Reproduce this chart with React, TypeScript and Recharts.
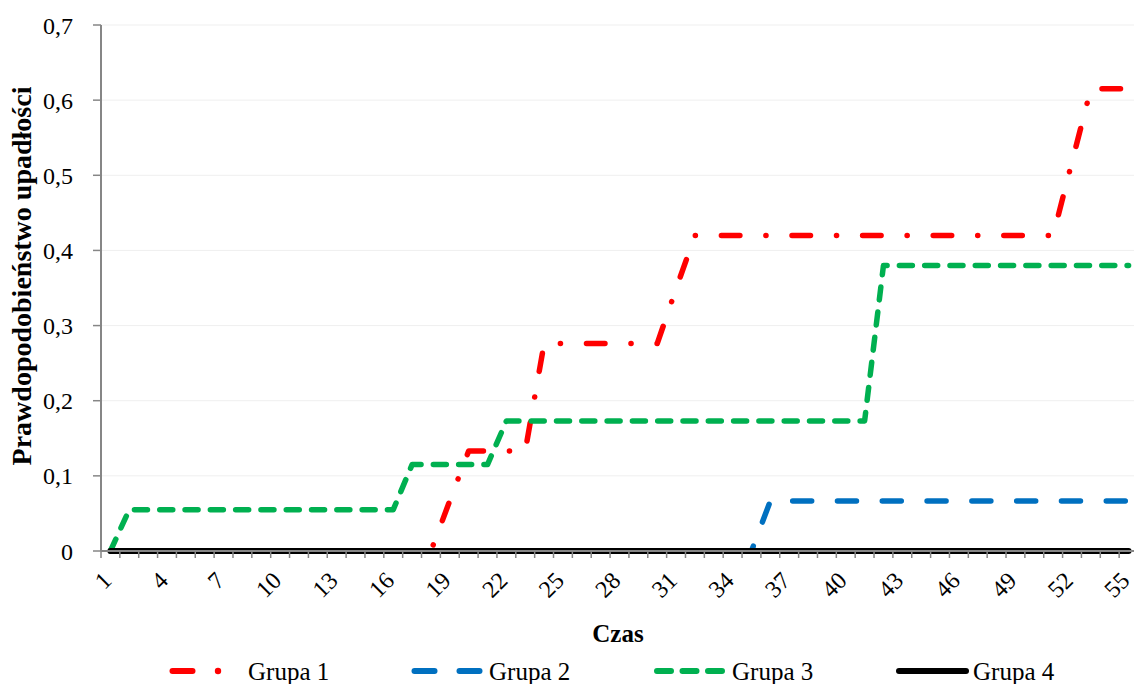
import { LineChart, Line, XAxis, YAxis, CartesianGrid } from "recharts";

const czas = [
  1, 2, 3, 4, 5, 6, 7, 8, 9, 10, 11, 12, 13, 14, 15, 16, 17, 18, 19, 20,
  21, 22, 23, 24, 25, 26, 27, 28, 29, 30, 31, 32, 33, 34, 35, 36, 37, 38, 39, 40,
  41, 42, 43, 44, 45, 46, 47, 48, 49, 50, 51, 52, 53, 54, 55,
];

const grupa1 = [
  0, 0, 0, 0, 0, 0, 0, 0, 0, 0, 0, 0, 0, 0, 0, 0, 0, 0, 0.067, 0.133,
  0.133, 0.133, 0.133, 0.276, 0.276, 0.276, 0.276, 0.276, 0.276, 0.276, 0.349, 0.42, 0.42, 0.42, 0.42, 0.42, 0.42, 0.42, 0.42, 0.42,
  0.42, 0.42, 0.42, 0.42, 0.42, 0.42, 0.42, 0.42, 0.42, 0.42, 0.42, 0.518, 0.615, 0.615, 0.615,
];

const grupa2 = [
  0, 0, 0, 0, 0, 0, 0, 0, 0, 0, 0, 0, 0, 0, 0, 0, 0, 0, 0, 0,
  0, 0, 0, 0, 0, 0, 0, 0, 0, 0, 0, 0, 0, 0, 0, 0.0665, 0.0665, 0.0665, 0.0665, 0.0665,
  0.0665, 0.0665, 0.0665, 0.0665, 0.0665, 0.0665, 0.0665, 0.0665, 0.0665, 0.0665, 0.0665, 0.0665, 0.0665, 0.0665, 0.0665,
];

const grupa3 = [
  0, 0.055, 0.055, 0.055, 0.055, 0.055, 0.055, 0.055, 0.055, 0.055, 0.055, 0.055, 0.055, 0.055, 0.055, 0.055, 0.115, 0.115, 0.115, 0.115,
  0.115, 0.173, 0.173, 0.173, 0.173, 0.173, 0.173, 0.173, 0.173, 0.173, 0.173, 0.173, 0.173, 0.173, 0.173, 0.173, 0.173, 0.173, 0.173, 0.173,
  0.173, 0.38, 0.38, 0.38, 0.38, 0.38, 0.38, 0.38, 0.38, 0.38, 0.38, 0.38, 0.38, 0.38, 0.38,
];

const grupa4 = [
  0, 0, 0, 0, 0, 0, 0, 0, 0, 0, 0, 0, 0, 0, 0, 0, 0, 0, 0, 0,
  0, 0, 0, 0, 0, 0, 0, 0, 0, 0, 0, 0, 0, 0, 0, 0, 0, 0, 0, 0,
  0, 0, 0, 0, 0, 0, 0, 0, 0, 0, 0, 0, 0, 0, 0,
];

const etykietyX = [1, 4, 7, 10, 13, 16, 19, 22, 25, 28, 31, 34, 37, 40, 43, 46, 49, 52, 55];
const ticksY = [0, 0.1, 0.2, 0.3, 0.4, 0.5, 0.6, 0.7];

const dane = czas.map((t, i) => ({
  t,
  g1: grupa1[i],
  g2: grupa2[i],
  g3: grupa3[i],
  g4: grupa4[i],
}));

const FONT = "'Liberation Serif', 'Times New Roman', serif";
const W = 1134;
const H = 684;
const LEWY = 101;
const PRAWY = -4;
const POL = (W - LEWY - PRAWY) / czas.length / 2;
const SZARY = "#868686";

const XTick = (props: any) => {
  const { x, y, payload } = props;
  const v = payload.value;
  const lx = x + 2.5;
  const ly = y + 31;
  return (
    <g>
      <line x1={x - POL} x2={x - POL} y1={y} y2={y + 7} stroke={SZARY} strokeWidth={1.5} />
      {etykietyX.includes(v) && (
        <text
          x={lx}
          y={ly}
          transform={`rotate(-45 ${lx} ${ly})`}
          textAnchor="end"
          fontSize={24}
          style={{ fontFamily: FONT }}
          fill="#000"
        >
          {v}
        </text>
      )}
    </g>
  );
};

export default function App() {
  return (
    <div style={{ position: "absolute", left: 0, top: 0, width: W, height: H, background: "#fff", fontFamily: FONT }}>
      <LineChart
        width={W}
        height={H}
        data={dane}
        margin={{ top: 25, right: PRAWY, bottom: 0, left: 0 }}
        style={{ fontFamily: FONT }}
      >
        <CartesianGrid vertical={false} stroke="#efefef" strokeWidth={1} />
        <XAxis
          dataKey="t"
          type="number"
          domain={[0.5, 55.5]}
          ticks={czas}
          interval={0}
          height={133}
          tickSize={0}
          tickMargin={0}
          tickLine={false}
          axisLine={{ stroke: SZARY, strokeWidth: 2 }}
          tick={<XTick />}
          label={() => (
            <text x={618} y={642} textAnchor="middle" fontSize={25} fontWeight="bold" style={{ fontFamily: FONT }} fill="#000">
              Czas
            </text>
          )}
        />
        <YAxis
          width={LEWY}
          domain={[0, 0.7]}
          ticks={ticksY}
          interval={0}
          tickSize={8}
          tickMargin={20}
          tickLine={{ stroke: SZARY, strokeWidth: 1.5 }}
          axisLine={{ stroke: SZARY, strokeWidth: 2 }}
          tick={{ fontSize: 24, fill: "#000", style: { fontFamily: FONT } }}
          tickFormatter={(v: number) => String(v).replace(".", ",")}
          label={() => (
            <text
              x={31}
              y={276}
              transform="rotate(-90 31 276)"
              textAnchor="middle"
              fontSize={28}
              fontWeight="bold"
              style={{ fontFamily: FONT }}
              fill="#000"
            >
              Prawdopodobieństwo upadłości
            </text>
          )}
        />
        <Line
          dataKey="g1"
          name="Grupa 1"
          type="linear"
          stroke="#FF0000"
          strokeWidth={5.5}
          strokeDasharray="18.5 26 0.1 26"
          strokeLinecap="round"
          strokeLinejoin="round"
          dot={false}
          activeDot={false}
          isAnimationActive={false}
        />
        <Line
          dataKey="g2"
          name="Grupa 2"
          type="linear"
          stroke="#0070C0"
          strokeWidth={5.5}
          strokeDasharray="19 25.8"
          strokeLinecap="round"
          strokeLinejoin="round"
          dot={false}
          activeDot={false}
          isAnimationActive={false}
        />
        <Line
          dataKey="g3"
          name="Grupa 3"
          type="linear"
          stroke="#00B050"
          strokeWidth={5.5}
          strokeDasharray="13 12.3"
          strokeLinecap="round"
          strokeLinejoin="round"
          dot={false}
          activeDot={false}
          isAnimationActive={false}
        />
        <Line
          dataKey="g4"
          name="Grupa 4"
          type="linear"
          stroke="#000000"
          strokeWidth={6}
          strokeLinecap="round"
          strokeLinejoin="round"
          dot={false}
          activeDot={false}
          isAnimationActive={false}
        />
      </LineChart>
      <svg
        width={W}
        height={H}
        style={{ position: "absolute", left: 0, top: 0, pointerEvents: "none", fontFamily: FONT }}
      >
        <g fontSize={25} fill="#000">
          <line x1={172.5} x2={192.5} y1={671} y2={671} stroke="#FF0000" strokeWidth={6} strokeLinecap="round" />
          <circle cx={218} cy={671} r={3.2} fill="#FF0000" />
          <text x={248} y={680}>Grupa 1</text>

          <line x1={414.5} x2={434.5} y1={671} y2={671} stroke="#0070C0" strokeWidth={6} strokeLinecap="round" />
          <line x1={459.5} x2={479.5} y1={671} y2={671} stroke="#0070C0" strokeWidth={6} strokeLinecap="round" />
          <text x={489} y={680}>Grupa 2</text>

          <line x1={657} x2={722} y1={671} y2={671} stroke="#00B050" strokeWidth={6} strokeLinecap="round" strokeDasharray="14 11.5" />
          <text x={732} y={680}>Grupa 3</text>

          <line x1={899} x2={966} y1={671} y2={671} stroke="#000000" strokeWidth={6} strokeLinecap="round" />
          <text x={973} y={680}>Grupa 4</text>
        </g>
      </svg>
    </div>
  );
}
